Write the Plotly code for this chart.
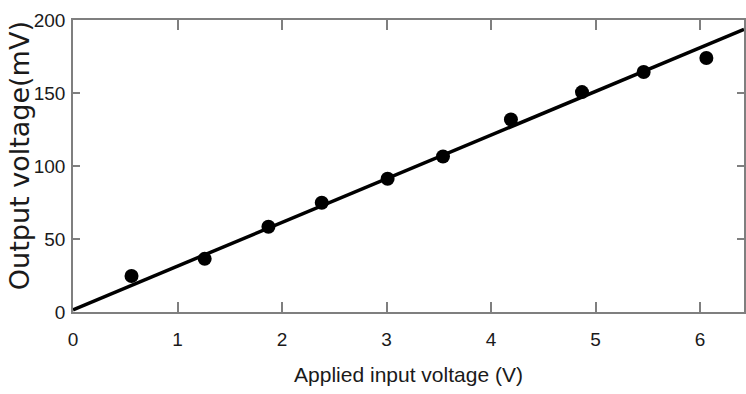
import plotly.graph_objects as go

# Measured data points (Applied input voltage in V, output voltage in mV)
input_v = [0.56, 1.26, 1.87, 2.38, 3.01, 3.54, 4.19, 4.87, 5.46, 6.06]
output_mv = [24.7, 36.4, 58.4, 74.8, 91.3, 106.5, 131.9, 150.6, 164.4, 174.0]

# Linear fit line endpoints
fit_x = [0.0, 6.42]
fit_y = [1.5, 193.6]

x_ticks = [0, 1, 2, 3, 4, 5, 6]
y_ticks = [0, 50, 100, 150, 200]

tick_font = dict(family="Liberation Sans, Arial", size=19, color="#1a1a1a")

fig = go.Figure()
fig.add_trace(go.Scatter(x=fit_x, y=fit_y, mode="lines",
                         line=dict(color="black", width=3.5), showlegend=False))
fig.add_trace(go.Scatter(x=input_v, y=output_mv, mode="markers",
                         marker=dict(color="black", size=14, symbol="circle"),
                         showlegend=False))

fig.update_layout(
    width=746, height=394,
    margin=dict(l=73, r=0, t=20, b=82),
    paper_bgcolor="white", plot_bgcolor="white",
    xaxis=dict(range=[0, 6.42], tickvals=x_ticks, ticktext=[str(v) for v in x_ticks],
               ticks="inside", ticklen=10, tickwidth=1.5, tickcolor="#7f7f7f",
               showline=True, linecolor="#7f7f7f", linewidth=1.5, mirror="ticks",
               showgrid=False, zeroline=False, tickfont=tick_font,
               ticklabelstandoff=9,
               title=dict(text="Applied input voltage (V)",
                          font=dict(family="Liberation Sans, Arial", size=21, color="#1a1a1a"),
                          standoff=19)),
    yaxis=dict(range=[0, 200], tickvals=y_ticks, ticktext=[str(v) for v in y_ticks],
               ticks="inside", ticklen=7, tickwidth=1.5, tickcolor="#7f7f7f",
               showline=True, linecolor="#7f7f7f", linewidth=1.5, mirror="ticks",
               showgrid=False, zeroline=False, tickfont=tick_font,
               ticklabelstandoff=2),
    annotations=[dict(text="Output voltage(mV)", textangle=-90,
                      xref="paper", yref="paper",
                      x=(19 - 73) / 673, y=(312 - 156) / 292,
                      xanchor="center", yanchor="middle", showarrow=False,
                      font=dict(family="DejaVu Sans", size=27, color="#1a1a1a"))],
)

fig.write_html("out.html")
